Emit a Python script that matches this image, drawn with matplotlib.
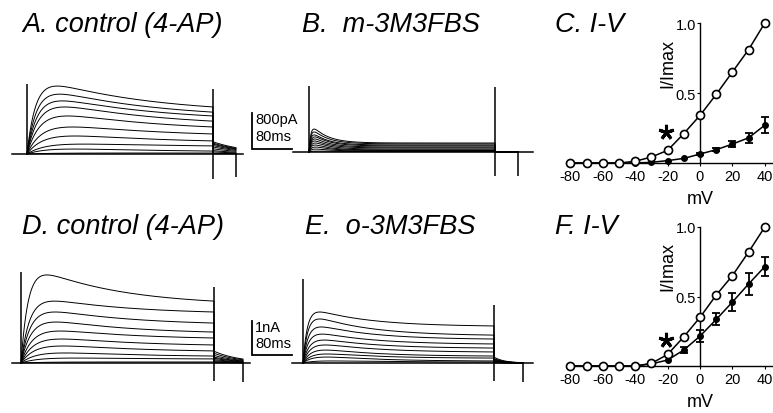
import numpy as np
import matplotlib
matplotlib.use('Agg')
import matplotlib.pyplot as plt

plt.rcParams['font.family'] = ['Liberation Sans', 'DejaVu Sans']
plt.rcParams['axes.unicode_minus'] = False

# ---- current traces (pA), read at the peak and at the end of the step, top -> bottom
a_peak = [1510, 1330, 1180, 1045, 845, 600, 400, 220, 110, 22]
a_end = [1045, 930, 845, 730, 600, 445, 290, 180, 65, 22]
a_tact = [18, 20, 22, 25, 28, 32, 36, 40, 45, 50]

b_peak = [510, 445, 380, 335, 290, 245, 200, 155, 110, 65, 20]
b_end = [200, 180, 155, 135, 110, 90, 65, 45, 33, 22, 10]
b_tact = [4, 4, 4, 5, 5, 5, 6, 6, 7, 7, 8]

d_peak = [2590, 1820, 1500, 1205, 940, 705, 500, 295, 145, 30]
d_end = [1820, 1500, 1175, 910, 735, 530, 355, 205, 120, 30]
d_tact = [15, 18, 20, 22, 25, 28, 32, 36, 40, 45]

e_peak = [1500, 1295, 1060, 850, 675, 530, 380, 265, 175, 60]
e_end = [1090, 820, 705, 560, 440, 325, 205, 145, 60, 30]
e_tact = [9, 10, 11, 12, 14, 16, 18, 20, 24, 28]

# ---- I-V data
volts = [-80, -70, -60, -50, -40, -30, -20, -10, 0, 10, 20, 30, 40]
c_ctrl = [0, 0, 0, 0, 0.012, 0.043, 0.09, 0.21, 0.34, 0.49, 0.65, 0.81, 1.0]
c_drug = [0, 0, 0, 0, 0, 0.005, 0.017, 0.033, 0.064, 0.095, 0.135, 0.18, 0.27]
c_err = [0, 0, 0, 0, 0, 0, 0, 0, 0.008, 0.01, 0.02, 0.035, 0.057]
f_ctrl = [0, 0, 0, 0, 0, 0.019, 0.083, 0.21, 0.35, 0.51, 0.65, 0.82, 1.0]
f_drug = [0, 0, 0, 0, 0, 0.015, 0.043, 0.115, 0.215, 0.335, 0.46, 0.59, 0.715]
f_err = [0, 0, 0, 0, 0, 0, 0, 0.02, 0.045, 0.043, 0.065, 0.078, 0.07]

W, H = 773, 414
fig = plt.figure(figsize=(W / 100, H / 100), dpi=100)


def px_axes(left, top, right, bottom):
    return fig.add_axes([left / W, 1 - bottom / H, (right - left) / W, (bottom - top) / H])


def trace_axes(box, x0, y0, ms_px, pa_px):
    left, top, right, bottom = box
    ax = px_axes(*box)
    ax.set_xlim((left - x0) * ms_px, (right - x0) * ms_px)
    ax.set_ylim((y0 - bottom) * pa_px, (y0 - top) * pa_px)
    ax.axis('off')
    return ax


def draw_traces(ax, peaks, ends, tacts, tinact, step, tail_dur, tail_frac, tail_tau,
                pre, post, cap_on, cap_off, cap_back):
    t = np.linspace(0, step, 500)
    tt = np.linspace(0, tail_dur, 80)
    w = (np.exp(-t / tinact) - np.exp(-step / tinact)) / (1 - np.exp(-step / tinact))
    for pk, en, ta in zip(peaks, ends, tacts):
        act = 1 - np.exp(-t / ta)
        amp = pk
        for _ in range(30):
            cur = act * (en + (amp - en) * w)
            amp += pk - cur.max()
        cur = act * (en + (amp - en) * w)
        tail = en * tail_frac * np.exp(-tt / tail_tau)
        ax.plot(np.r_[t, step + tt], np.r_[cur, tail], color='k', lw=0.7)
    ax.plot([-pre, step + tail_dur + post], [0, 0], color='k', lw=1.1)
    ax.vlines(0, 0, cap_on, color='k', lw=1.1)
    ax.vlines(step, cap_off[0], cap_off[1], color='k', lw=1.1)
    ax.vlines(step + tail_dur, cap_back, 0, color='k', lw=1.1)


def scale_bar(ax, x, y, dy, dx, lab_y, lab_x):
    ax.plot([x, x, x + dx], [y + dy, y, y], color='k', lw=1.3, solid_joinstyle='miter')
    ax.text(x + 6, y + dy * 0.83, lab_y, fontsize=10.5, va='center', ha='left')
    ax.text(x + 6, y + dy * 0.36, lab_x, fontsize=10.5, va='center', ha='left')


top_pa = 800 / 36
bot_pa = 1000 / 34

ax_a = trace_axes((0, 60, 300, 200), 27, 155, 2.0, top_pa)
draw_traces(ax_a, a_peak, a_end, a_tact, 220, 372, 46, 0.26, 70, 30, 14,
            1550, (-555, 1440), -510)
scale_bar(ax_a, 450, 111, 800, 80, '800pA', '80ms')

ax_b = trace_axes((290, 60, 540, 200), 309, 153, 2.0, top_pa)
draw_traces(ax_b, b_peak, b_end, b_tact, 30, 372, 46, 0.05, 20, 32, 30,
            1465, (-530, 1440), -530)

ax_d = trace_axes((0, 250, 300, 400), 21, 364, 2.0, bot_pa)
draw_traces(ax_d, d_peak, d_end, d_tact, 170, 386, 58, 0.19, 53, 18, 14,
            2675, (-530, 2235), -560)
scale_bar(ax_d, 462, 235, 1000, 80, '1nA', '80ms')

ax_e = trace_axes((290, 250, 540, 400), 303, 364, 2.0, bot_pa)
draw_traces(ax_e, e_peak, e_end, e_tact, 110, 382, 58, 0.16, 20, 22, 20,
            2470, (-530, 1705), -560)


def iv_axes(top, bottom, zero, scale, ctrl, drug, err, star_y):
    ax = px_axes(562, top, 773, bottom)
    ax.set_xlim((562 - 700) / 1.62, (773 - 700) / 1.62)
    ax.set_ylim((zero - bottom) / scale, (zero - top) / scale)
    for s in ('top', 'right'):
        ax.spines[s].set_visible(False)
    ax.spines['left'].set_position(('data', 0))
    ax.spines['bottom'].set_position(('data', 0))
    ax.spines['left'].set_bounds(0, 1)
    ax.spines['bottom'].set_bounds(-82, 45)
    for s in ('left', 'bottom'):
        ax.spines[s].set_linewidth(1.0)
    ax.set_xticks([-80, -60, -40, -20, 0, 20, 40])
    ax.set_yticks([0.5, 1.0])
    ax.set_yticklabels(['0.5', '1.0'])
    ax.tick_params(axis='x', length=2.5, width=0.8, pad=2, labelsize=10.5)
    ax.tick_params(axis='y', length=2.5, width=0.8, pad=0.5, labelsize=10.5)
    v = np.array(volts)
    d = np.array(drug)
    e = np.array(err)
    m = e > 0
    ax.errorbar(v[m], d[m], yerr=e[m], fmt='none', ecolor='k', elinewidth=1.3,
                capsize=2.8, capthick=1.3, clip_on=False, zorder=3)
    ax.plot(v, d, '-o', color='k', ms=4, lw=1.1, clip_on=False, zorder=3)
    ax.plot(v, ctrl, '-o', color='k', mfc='white', ms=5.8, mew=1.2, lw=1.1,
            clip_on=False, zorder=4)
    ax.plot([-21], [star_y], marker=(5, 2, 0), ms=11, mew=2.2, color='k',
            clip_on=False, zorder=5)
    ax.text(0, (zero - (bottom + 28)) / scale, 'mV', fontsize=13, ha='center', va='center')
    ax.text(-19.8, 0.72, 'I/Imax', fontsize=13, rotation=90, ha='center', va='center')
    return ax


iv_axes(12, 172, 164, 140, c_ctrl, c_drug, c_err, 0.22)
iv_axes(215, 375, 367, 139, f_ctrl, f_drug, f_err, 0.19)

titles = [(22, 25, 'A. control (4-AP)'), (302, 25, 'B.  m-3M3FBS'), (555, 25, 'C. I-V'),
          (22, 227, 'D. control (4-AP)'), (305, 227, 'E.  o-3M3FBS'), (555, 227, 'F. I-V')]
for x, y, s in titles:
    fig.text(x / W, 1 - y / H, s, fontsize=19.5, style='italic', ha='left', va='center')

fig.savefig('out.png', dpi=100)
